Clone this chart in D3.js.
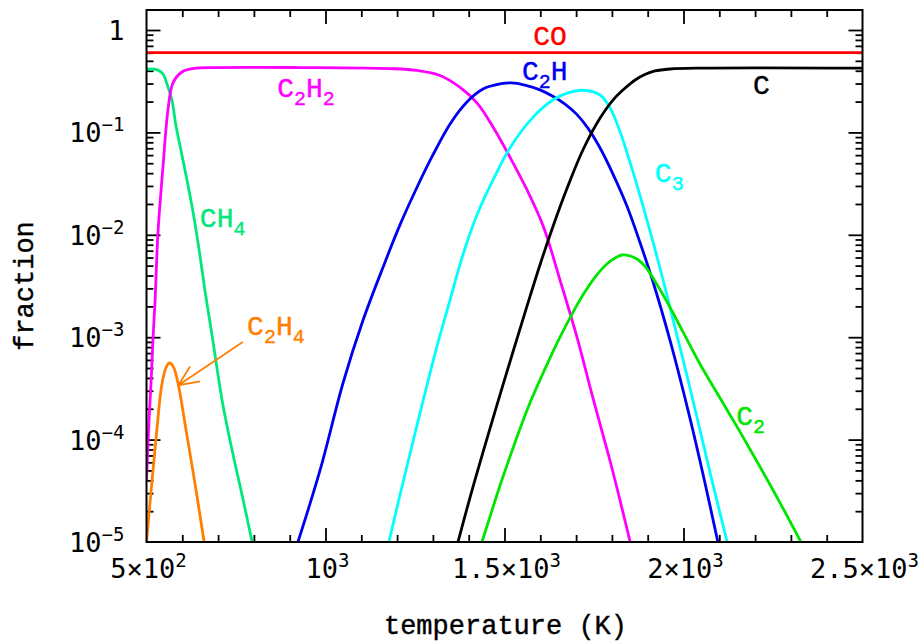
<!DOCTYPE html>
<html>
<head>
<meta charset="utf-8">
<script src="https://cdn.jsdelivr.net/npm/d3@7"></script>
<style>
  body { margin: 0; background: #fff; }
  svg { display: block; }
</style>
</head>
<body>
<script>
// values: temperature (K) -> fraction
const tempCO = [500, 2500];
const fracCO = [0.6, 0.6];

const tempCH4 = [500, 532, 546, 560, 571, 582, 596, 613, 630, 647, 663, 683, 711, 739, 770, 795];
const fracCH4 = [0.416, 0.406, 0.372, 0.277, 0.207, 0.118, 0.0673, 0.0343, 0.0167, 7.1e-3, 2.89e-3, 1.05e-3, 2.44e-4, 7.9e-5, 2.57e-5, 1.0e-5];

const tempC2H2 = [500, 507, 513, 518, 524, 532, 546, 560, 574, 599, 630, 697, 929, 1180, 1256, 1320, 1376, 1423, 1468, 1515, 1563, 1608, 1655, 1703, 1747, 1800, 1851];
const fracC2H2 = [4.0e-5, 1.55e-4, 3.8e-4, 9.4e-4, 2.3e-3, 1.04e-2, 0.046, 0.166, 0.304, 0.389, 0.42, 0.43, 0.43, 0.42, 0.403, 0.36, 0.275, 0.194, 0.113, 0.0575, 0.0274, 0.0122, 3.62e-3, 9.83e-4, 2.55e-4, 5.28e-5, 1.0e-5];

const tempC2H4 = [500, 514, 528, 542, 554, 564, 575, 588, 612, 635, 661];
const fracC2H4 = [1.0e-5, 3.5e-5, 1.15e-4, 3.3e-4, 5.0e-4, 5.6e-4, 5.15e-4, 3.55e-4, 1.15e-4, 3.8e-5, 1.0e-5];

const tempC2H = [923, 985, 1049, 1105, 1161, 1208, 1256, 1300, 1348, 1395, 1440, 1487, 1518, 1557, 1599, 1635, 1669, 1702, 1733, 1767, 1803, 1842, 1878, 1915, 1962, 2018, 2060, 2096];
const fracC2H = [1.0e-5, 5.05e-5, 3.57e-4, 1.47e-3, 4.85e-3, 0.0125, 0.0293, 0.0602, 0.121, 0.198, 0.265, 0.297, 0.304, 0.290, 0.260, 0.225, 0.189, 0.150, 0.110, 0.0704, 0.0392, 0.0191, 8.5e-3, 3.46e-3, 9.4e-4, 1.62e-4, 3.77e-5, 1.0e-5];

const tempC3 = [1177, 1208, 1242, 1278, 1314, 1348, 1381, 1423, 1468, 1515, 1580, 1635, 1677, 1719, 1767, 1795, 1823, 1859, 1887, 1915, 1943, 1971, 2010, 2046, 2082, 2122];
const fracC3 = [1.0e-5, 2.88e-5, 8.85e-5, 2.85e-4, 8.78e-4, 2.31e-3, 5.93e-3, 0.0156, 0.0343, 0.0704, 0.141, 0.207, 0.243, 0.258, 0.232, 0.173, 0.101, 0.041, 0.0191, 8.5e-3, 3.62e-3, 1.47e-3, 4.18e-4, 1.24e-4, 3.68e-5, 1.0e-5];

const tempC = [1370, 1404, 1440, 1479, 1521, 1563, 1599, 1633, 1675, 1719, 1767, 1803, 1837, 1865, 1892, 1920, 1962, 2046, 2500];
const fracC = [1.0e-5, 2.75e-5, 7.56e-5, 2.18e-4, 6.7e-4, 2.02e-3, 5.07e-3, 0.0114, 0.0286, 0.0673, 0.138, 0.207, 0.271, 0.325, 0.367, 0.398, 0.416, 0.425, 0.425];

const tempC2 = [1437, 1460, 1487, 1515, 1543, 1571, 1599, 1627, 1655, 1689, 1719, 1753, 1786, 1809, 1828, 1851, 1870, 1892, 1920, 1954, 1999, 2046, 2102, 2158, 2214, 2270, 2328];
const fracC2 = [1.0e-5, 1.79e-5, 3.52e-5, 6.76e-5, 1.27e-4, 2.28e-4, 3.82e-4, 6.26e-4, 1.0e-3, 1.69e-3, 2.58e-3, 3.87e-3, 5.19e-3, 5.93e-3, 6.35e-3, 6.21e-3, 5.8e-3, 4.96e-3, 3.54e-3, 2.21e-3, 1.12e-3, 5.47e-4, 2.55e-4, 1.19e-4, 5.4e-5, 2.4e-5, 1.0e-5];

// curve labels (left edge temperature, baseline fraction)
const labelNames = ["CO", "C2H", "C2H2", "C", "C3", "CH4", "C2H4", "C2"];
const labelT = [1580, 1549, 865, 2194, 1920, 649, 781, 2147];
const labelF = [0.714, 0.325, 0.222, 0.237, 0.0328, 0.0119, 1.05e-3, 1.39e-4];

// arrow pointing at the C2H4 peak
const arrowTail = [769, 9.0e-4];
const arrowTip = [589, 3.4e-4];

// tick labels
const xTickVals = [500, 1000, 1500, 2000, 2500];
const xTickMant = ["5×", "", "1.5×", "2×", "2.5×"];
const xTickExp = ["2", "3", "3", "3", "3"];
const yTickVals = [1, 1e-1, 1e-2, 1e-3, 1e-4, 1e-5];
const yTickExp = ["", "−1", "−2", "−3", "−4", "−5"];

const series = [
  { name: "CO", t: tempCO, f: fracCO, color: "#ff0000" },
  { name: "CH4", t: tempCH4, f: fracCH4, color: "#00e87a" },
  { name: "C2H4", t: tempC2H4, f: fracC2H4, color: "#ff8000" },
  { name: "C2H2", t: tempC2H2, f: fracC2H2, color: "#ff00ff" },
  { name: "C2H", t: tempC2H, f: fracC2H, color: "#0000f0" },
  { name: "C3", t: tempC3, f: fracC3, color: "#00ffff" },
  { name: "C", t: tempC, f: fracC, color: "#000000" },
  { name: "C2", t: tempC2, f: fracC2, color: "#00e600" }
];
const colorOf = {};
series.forEach(s => { colorOf[s.name] = s.color; });

const W = 922, H = 642;
const m = { top: 10, left: 146.5 };
const w = 716, h = 532;

const svg = d3.select("body").append("svg")
  .attr("width", W)
  .attr("height", H);

const g = svg.append("g").attr("transform", "translate(" + m.left + "," + m.top + ")");

const x = d3.scaleLinear().domain([500, 2500]).range([0, w]);
const y = d3.scaleLog().domain([1e-5, 1.568]).range([h, 0]);

svg.append("defs").append("clipPath").attr("id", "plotclip")
  .append("rect").attr("x", 0).attr("y", 0).attr("width", w).attr("height", h);

// ticks (all pointing inward, on all four sides)
const xMajor = [1000, 1500, 2000];
const xMinor = d3.range(600, 2500, 100).filter(t => t % 500 !== 0);
const yMajor = [1e-4, 1e-3, 1e-2, 1e-1, 1];
const yMinor = [];
[1e-5, 1e-4, 1e-3, 1e-2, 1e-1].forEach(d => {
  for (let k = 2; k <= 9; k++) yMinor.push(d * k);
});

function drawTicks(axis, vals, size, transform) {
  g.append("g")
    .attr("transform", transform)
    .call(axis.tickValues(vals).tickSize(-size).tickSizeOuter(0).tickFormat(""))
    .call(s => s.select(".domain").remove())
    .selectAll("line").attr("stroke", "#000").attr("stroke-width", 1.8);
}
drawTicks(d3.axisBottom(x), xMajor, 14, "translate(0," + h + ")");
drawTicks(d3.axisBottom(x), xMinor, 7, "translate(0," + h + ")");
drawTicks(d3.axisTop(x), xMajor, 14, "translate(0,0)");
drawTicks(d3.axisTop(x), xMinor, 7, "translate(0,0)");
drawTicks(d3.axisLeft(y), yMajor, 14, "translate(0,0)");
drawTicks(d3.axisLeft(y), yMinor, 7, "translate(0,0)");
drawTicks(d3.axisRight(y), yMajor, 14, "translate(" + w + ",0)");
drawTicks(d3.axisRight(y), yMinor, 7, "translate(" + w + ",0)");

// curves
const line = d3.line()
  .x(d => x(d[0]))
  .y(d => y(d[1]))
  .curve(d3.curveCatmullRom.alpha(0.5));

g.append("g").attr("clip-path", "url(#plotclip)")
  .selectAll("path")
  .data(series)
  .enter()
  .append("path")
  .attr("d", s => line(s.t.map((t, i) => [t, s.f[i]])))
  .attr("fill", "none")
  .attr("stroke", s => s.color)
  .attr("stroke-width", 2.8)
  .attr("stroke-linejoin", "round");

// frame
g.append("rect")
  .attr("width", w).attr("height", h)
  .attr("fill", "none").attr("stroke", "#000").attr("stroke-width", 2);

// arrow for C2H4
const ax0 = x(arrowTail[0]), ay0 = y(arrowTail[1]);
const ax1 = x(arrowTip[0]), ay1 = y(arrowTip[1]);
const ang = Math.atan2(ay0 - ay1, ax0 - ax1);
const barb = 22, spread = 24 * Math.PI / 180;
const arrowPath = d3.path();
arrowPath.moveTo(ax0, ay0);
arrowPath.lineTo(ax1, ay1);
arrowPath.moveTo(ax1 + barb * Math.cos(ang - spread), ay1 + barb * Math.sin(ang - spread));
arrowPath.lineTo(ax1, ay1);
arrowPath.lineTo(ax1 + barb * Math.cos(ang + spread), ay1 + barb * Math.sin(ang + spread));
g.append("path")
  .attr("d", arrowPath.toString())
  .attr("fill", "none")
  .attr("stroke", colorOf["C2H4"])
  .attr("stroke-width", 1.8);

// curve labels, digits drawn as subscripts
const labelFont = "'Liberation Mono', 'Courier New', monospace";
labelNames.forEach((name, i) => {
  const t = g.append("text")
    .attr("x", x(labelT[i]))
    .attr("y", y(labelF[i]))
    .attr("font-family", labelFont)
    .attr("font-size", 28)
    .attr("fill", colorOf[name])
    .attr("stroke", colorOf[name])
    .attr("stroke-width", 0.4);
  let shifted = false;
  name.split("").forEach(ch => {
    const isDigit = /[0-9]/.test(ch);
    const ts = t.append("tspan").text(ch);
    if (isDigit && !shifted) { ts.attr("dy", 8).attr("font-size", 20); shifted = true; }
    else if (isDigit) { ts.attr("font-size", 20); }
    else if (shifted) { ts.attr("dy", -8); shifted = false; }
  });
});

// tick labels
const tickFont = "'DejaVu Sans Mono', monospace";
xTickVals.forEach((v, i) => {
  const t = g.append("text")
    .attr("x", x(v) + 2)
    .attr("y", h + 36)
    .attr("text-anchor", "middle")
    .attr("font-family", tickFont)
    .attr("font-size", 27)
    .attr("fill", "#000");
  t.append("tspan").text(xTickMant[i] + "10");
  t.append("tspan").attr("dy", -11).attr("font-size", 19).text(xTickExp[i]);
});

yTickVals.forEach((v, i) => {
  const t = g.append("text")
    .attr("x", -22)
    .attr("y", y(v) + 10)
    .attr("text-anchor", "end")
    .attr("font-family", tickFont)
    .attr("font-size", 27)
    .attr("fill", "#000");
  if (yTickExp[i] === "") {
    t.text("1");
  } else {
    t.append("tspan").text("10");
    t.append("tspan").attr("dy", -11).attr("font-size", 19).text(yTickExp[i]);
  }
});

// axis titles
svg.append("text")
  .attr("x", m.left + w / 2 + 1)
  .attr("y", 634)
  .attr("text-anchor", "middle")
  .attr("font-family", labelFont)
  .attr("font-size", 27)
  .attr("fill", "#000")
  .attr("stroke", "#000")
  .attr("stroke-width", 0.4)
  .text("temperature (K)");

svg.append("text")
  .attr("transform", "translate(33," + (m.top + h / 2 + 10) + ") rotate(-90)")
  .attr("text-anchor", "middle")
  .attr("font-family", labelFont)
  .attr("font-size", 27)
  .attr("fill", "#000")
  .attr("stroke", "#000")
  .attr("stroke-width", 0.4)
  .text("fraction");
</script>
</body>
</html>
